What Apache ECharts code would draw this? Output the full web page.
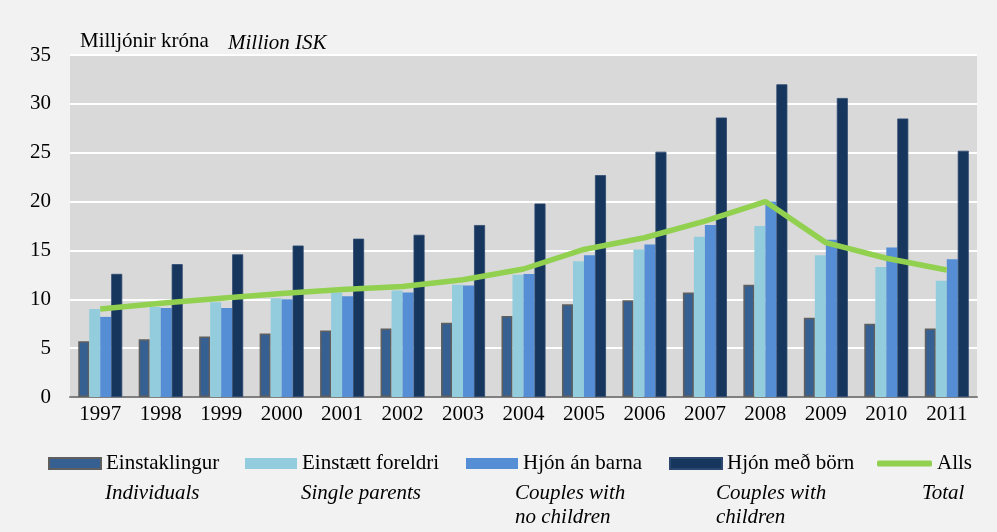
<!DOCTYPE html>
<html>
<head>
<meta charset="utf-8">
<script src="https://cdn.jsdelivr.net/npm/echarts@6/dist/echarts.min.js"></script>
<style>
  html, body { margin: 0; padding: 0; background: #f2f2f2; }
  #chart { width: 997px; height: 532px; }
</style>
</head>
<body>
<div id="chart"></div>
<script>
// gögn lesin af myndinni
const years = ["1997", "1998", "1999", "2000", "2001", "2002", "2003", "2004",
  "2005", "2006", "2007", "2008", "2009", "2010", "2011"];
const einstaklingur = [5.7, 5.9, 6.2, 6.5, 6.8, 7.0, 7.6, 8.3, 9.5, 9.9, 10.7, 11.5, 8.1, 7.5, 7.0];
const einstaettForeldri = [9.0, 9.2, 9.7, 10.1, 10.7, 10.9, 11.5, 12.5, 13.9, 15.1, 16.4, 17.5, 14.5, 13.3, 11.9];
const hjonAnBarna = [8.2, 9.1, 9.1, 10.0, 10.3, 10.7, 11.4, 12.6, 14.5, 15.6, 17.6, 20.0, 16.1, 15.3, 14.1];
const hjonMedBorn = [12.6, 13.6, 14.6, 15.5, 16.2, 16.6, 17.6, 19.8, 22.7, 25.1, 28.6, 32.0, 30.6, 28.5, 25.2];
const alls = [9.0, 9.6, 10.1, 10.6, 11.0, 11.3, 12.0, 13.1, 15.1, 16.3, 18.0, 20.0, 15.8, 14.2, 13.0];
const yTicks = [0, 5, 10, 15, 20, 25, 30, 35];

const font = "'Liberation Serif', 'Times New Roman', serif";
const chart = echarts.init(document.getElementById("chart"));

const legendBase = {
  itemWidth: 52,
  itemHeight: 11,
  itemGap: 0,
  top: 453,
  padding: 0,
  icon: "rect",
  textStyle: { fontFamily: font, fontSize: 21, color: "#000", lineHeight: 21 },
  selectedMode: false,
};

// skýringartextar á ensku undir
const italic = (x, y, t) => ({
  type: "text",
  left: x,
  top: y,
  style: { text: t, font: "italic 21px " + font, fill: "#000", lineHeight: 24 },
});

var option = {
  backgroundColor: "#f2f2f2",
  animation: false,
  grid: {
    left: 70,
    right: 20,
    top: 55,
    bottom: 135,
    show: true,
    backgroundColor: "#d9d9d9",
    borderWidth: 0,
  },
  legend: [
    Object.assign({}, legendBase, { left: 48, data: ["Einstaklingur"] }),
    Object.assign({}, legendBase, { left: 245, data: ["Einstætt foreldri"] }),
    Object.assign({}, legendBase, { left: 466, data: ["Hjón án barna"] }),
    Object.assign({}, legendBase, { left: 669, data: ["Hjón með börn"] }),
    Object.assign({}, legendBase, {
      left: 877,
      data: [{ name: "Alls", icon: "roundRect" }],
      itemWidth: 55,
      itemHeight: 6,
    }),
  ],
  graphic: [
    {
      type: "text",
      left: 80,
      top: 31,
      style: { text: "Milljónir króna", font: "21px " + font, fill: "#000" },
    },
    italic(228, 31, "Million ISK"),
    italic(105, 481, "Individuals"),
    italic(301, 481, "Single parents"),
    italic(515, 481, "Couples with\nno children"),
    italic(716, 481, "Couples with\nchildren"),
    italic(922, 481, "Total"),
  ],
  xAxis: {
    type: "category",
    data: years,
    axisLine: { lineStyle: { color: "#808080", width: 2 } },
    axisTick: { show: false },
    axisLabel: { fontFamily: font, fontSize: 21, color: "#000", margin: 7 },
  },
  yAxis: {
    type: "value",
    min: yTicks[0],
    max: yTicks[yTicks.length - 1],
    interval: 5,
    axisLine: { show: false },
    axisTick: { show: false },
    splitLine: { lineStyle: { color: "#ffffff", width: 2 } },
    axisLabel: { fontFamily: font, fontSize: 21, color: "#000", margin: 19 },
  },
  series: [
    {
      name: "Einstaklingur",
      type: "bar",
      data: einstaklingur,
      barWidth: 11,
      barGap: "0%",
      itemStyle: { color: "#376092", borderColor: "#5f5f5f", borderWidth: 1.5 },
    },
    {
      name: "Einstætt foreldri",
      type: "bar",
      data: einstaettForeldri,
      barWidth: 11,
      barGap: "0%",
      itemStyle: { color: "#93cddd" },
    },
    {
      name: "Hjón án barna",
      type: "bar",
      data: hjonAnBarna,
      barWidth: 11,
      barGap: "0%",
      itemStyle: { color: "#558ed5" },
    },
    {
      name: "Hjón með börn",
      type: "bar",
      data: hjonMedBorn,
      barWidth: 11,
      barGap: "0%",
      itemStyle: { color: "#17365d", borderColor: "#2c4770", borderWidth: 0.8 },
    },
    {
      name: "Alls",
      type: "line",
      data: alls,
      showSymbol: false,
      symbol: "none",
      lineStyle: { color: "#92d050", width: 5.5 },
      itemStyle: { color: "#92d050" },
      z: 5,
    },
  ],
};

chart.setOption(option);
</script>
</body>
</html>
